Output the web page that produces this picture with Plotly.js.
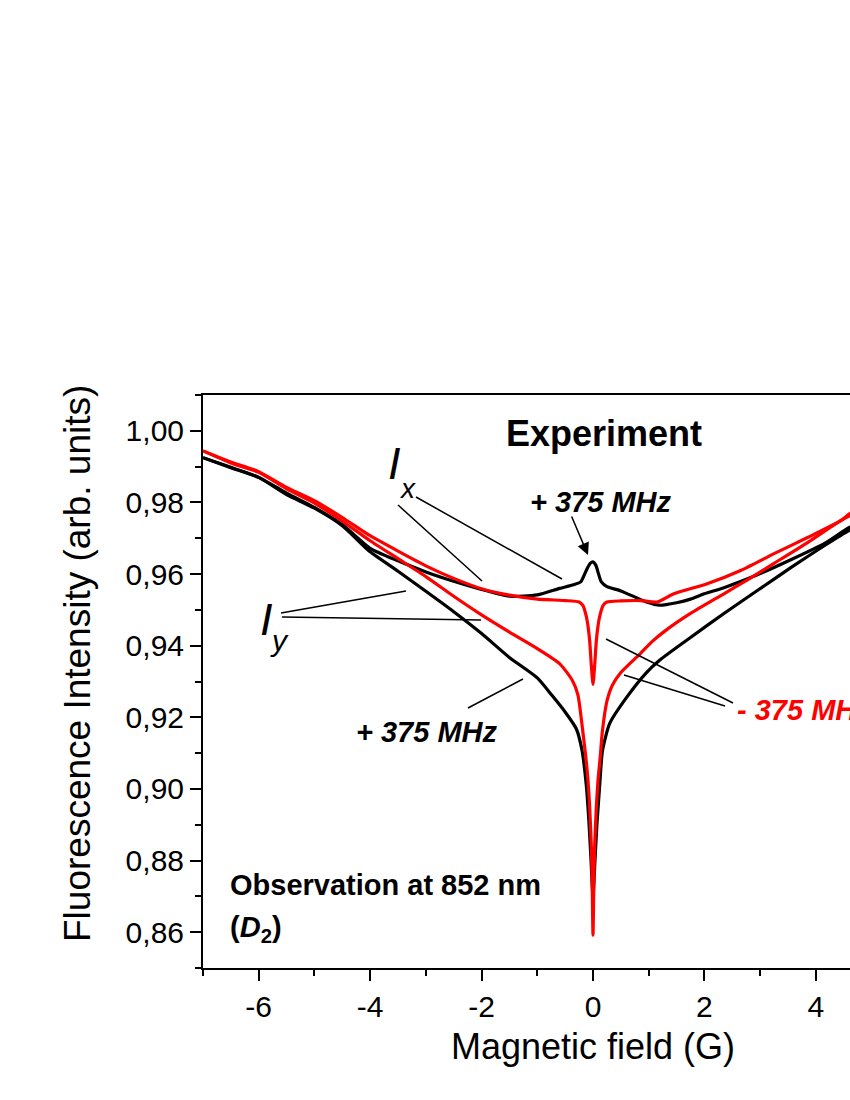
<!DOCTYPE html>
<html><head><meta charset="utf-8">
<script src="https://cdn.plot.ly/plotly-3.0.1.min.js"></script>
<style>html,body{margin:0;padding:0;overflow:hidden;background:#fff;width:850px;height:1100px}#chart{width:1000px;height:1100px}</style>
</head><body><div id="chart"></div>
<script>
// Magnetic field (G) and fluorescence intensity (arb. units)
const blackIxField = [-7, -6.5, -6, -5.5, -5, -4.5, -4, -3.5, -3, -2.5, -2, -1.5, -1, -0.6, -0.35, -0.22, -0.15, -0.1, -0.05, 0, 0.05, 0.1, 0.15, 0.25, 0.5, 0.96, 1.2, 1.5, 1.75, 2.0, 2.35, 2.95, 3.55, 4.15, 4.6, 5, 5.5, 6, 6.5, 7];
const blackIx      = [0.9925, 0.9898, 0.9870, 0.9826, 0.9786, 0.9738, 0.9672, 0.9637, 0.9606, 0.9580, 0.9557, 0.9538, 0.9542, 0.9560, 0.9570, 0.9578, 0.9600, 0.9617, 0.9630, 0.9634, 0.9625, 0.9600, 0.9578, 0.9565, 0.9553, 0.9522, 0.9513, 0.9520, 0.9530, 0.9545, 0.9562, 0.9598, 0.9640, 0.9685, 0.9730, 0.9758, 0.9800, 0.9845, 0.9878, 0.9905];

const blackIyField = [-7, -6.5, -6, -5.5, -5, -4.5, -4, -3.5, -3, -2.5, -2, -1.5, -1, -0.73, -0.5, -0.3, -0.2, -0.12, -0.07, -0.035, 0, 0.035, 0.07, 0.12, 0.17, 0.3, 0.6, 0.96, 1.2, 1.75, 2.35, 2.95, 3.55, 4.15, 4.6, 5, 5.5, 6, 6.5, 7];
const blackIy      = [0.9925, 0.9897, 0.9870, 0.9822, 0.9784, 0.9735, 0.9662, 0.9608, 0.9552, 0.9495, 0.9434, 0.9367, 0.9310, 0.9260, 0.9215, 0.9168, 0.9110, 0.9010, 0.8900, 0.8800, 0.8700, 0.8800, 0.8900, 0.9010, 0.9107, 0.9183, 0.9255, 0.9325, 0.9360, 0.9423, 0.9490, 0.9554, 0.9618, 0.9679, 0.9722, 0.9752, 0.9795, 0.9838, 0.9872, 0.9900];

const redIxField = [-7, -6.5, -6, -5.5, -5, -4.5, -4, -3.5, -3, -2.5, -2, -1.5, -1, -0.5, -0.25, -0.18, -0.12, -0.09, -0.06, -0.03, 0, 0.03, 0.06, 0.09, 0.12, 0.18, 0.25, 0.5, 0.85, 1.15, 1.45, 2.05, 2.65, 3.25, 3.85, 4.45, 4.6, 5, 5.5, 6, 6.5, 7];
const redIx      = [0.9944, 0.9913, 0.9886, 0.9842, 0.9805, 0.9758, 0.9707, 0.9664, 0.9623, 0.9588, 0.9559, 0.9541, 0.9530, 0.9526, 0.9522, 0.9512, 0.9482, 0.9455, 0.9414, 0.9345, 0.9292, 0.9345, 0.9414, 0.9455, 0.9482, 0.9512, 0.9522, 0.9525, 0.9526, 0.9522, 0.9545, 0.9573, 0.9610, 0.9657, 0.9702, 0.9749, 0.9768, 0.9795, 0.9838, 0.9878, 0.9910, 0.9935];

const redIyField = [-7, -6.5, -6, -5.5, -5, -4.5, -4, -3.5, -3, -2.5, -2, -1.5, -1, -0.6, -0.37, -0.27, -0.19, -0.13, -0.09, -0.06, -0.03, -0.015, 0, 0.015, 0.03, 0.06, 0.09, 0.13, 0.17, 0.25, 0.35, 0.5, 0.85, 1.05, 1.3, 1.75, 2.35, 2.75, 3.25, 3.85, 4.45, 4.6, 5, 5.5, 6, 6.5, 7];
const redIy      = [0.9944, 0.9910, 0.9884, 0.9838, 0.9798, 0.9748, 0.9693, 0.9643, 0.9593, 0.9538, 0.9486, 0.9438, 0.9392, 0.9350, 0.9303, 0.9262, 0.9170, 0.9090, 0.9024, 0.8950, 0.8840, 0.8740, 0.8592, 0.8740, 0.8840, 0.8950, 0.9024, 0.9090, 0.9163, 0.9245, 0.9290, 0.9325, 0.9378, 0.9410, 0.9442, 0.9490, 0.9545, 0.9582, 0.9630, 0.9688, 0.9750, 0.9762, 0.9790, 0.9832, 0.9872, 0.9905, 0.9930];

const xTickVals = [-6, -4, -2, 0, 2, 4];
const xTickText = ['-6', '-4', '-2', '0', '2', '4'];
const yTickVals = [0.86, 0.88, 0.90, 0.92, 0.94, 0.96, 0.98, 1.00];

const FONT = 'Liberation Sans, Arial, sans-serif';
const BLACK = '#000000', RED = '#ff0000';

// plot frame in pixels (for placing labels)
const L = 203, R = 983, T = 395, B = 968;
const px = x => (x - L) / (R - L);
const py = y => (B - y) / (B - T);

function curve(x, y, color) {
  return {x: x, y: y, type: 'scatter', mode: 'lines',
          line: {color: color, width: 3.2, shape: 'spline', smoothing: 0.6},
          hoverinfo: 'skip', showlegend: false};
}

const traces = [
  curve(blackIxField, blackIx, BLACK),
  curve(blackIyField, blackIy, BLACK),
  curve(redIxField, redIx, RED),
  curve(redIyField, redIy, RED)
];

function seg(x0, y0, x1, y1) {
  return {type: 'line', xref: 'paper', yref: 'paper', x0: px(x0), y0: py(y0), x1: px(x1), y1: py(y1), line: {color: BLACK, width: 1.5}};
}
const shapes = [
  seg(398, 505, 482, 581),
  seg(416, 497, 562, 579),
  seg(281, 613, 406, 591),
  seg(282, 617, 481, 620),
  seg(468, 708, 523, 679),
  seg(606, 639, 733, 703),
  seg(624, 675, 725, 706)
];

function txt(text, x, y, size, color, xanchor) {
  return {text: text, x: px(x), y: py(y), xref: 'paper', yref: 'paper', showarrow: false,
          xanchor: xanchor || 'center', yanchor: 'middle', font: {family: FONT, size: size, color: color || BLACK}};
}
const yTitle = txt('Fluorescence Intensity (arb. units)', 77, 664, 37);
yTitle.textangle = -90;

const annotations = [
  yTitle,
  txt('<b>Experiment</b>', 604, 433, 36),
  txt('<i>I</i>', 394, 463, 45),
  txt('<i>x</i>', 407, 488, 28),
  txt('<i>I</i>', 266, 619, 45),
  txt('<i>y</i>', 279, 640, 30),
  txt('<b><i>+ 375 MHz</i></b>', 601, 502, 29),
  txt('<b><i>+ 375 MHz</i></b>', 427, 732, 29),
  txt('<b><i>- 375 MHz</i></b>', 735, 710, 29, RED, 'left'),
  txt('<b>Observation at 852 nm</b>', 228, 885, 29, BLACK, 'left'),
  txt('<b>(<i>D</i><sub>2</sub>)</b>', 228, 929, 29, BLACK, 'left'),
  {x: px(588), y: py(555), ax: px(571), ay: py(515), xref: 'paper', yref: 'paper', axref: 'paper', ayref: 'paper',
   text: '', showarrow: true, arrowhead: 2, arrowsize: 1.6, arrowwidth: 1.5, arrowcolor: BLACK}
];

const layout = {
  width: 1000, height: 1100,
  margin: {l: L, r: 1000 - R, t: T, b: 1100 - B},
  paper_bgcolor: '#ffffff', plot_bgcolor: '#ffffff',
  separators: ', ',
  font: {family: FONT, color: BLACK},
  showlegend: false,
  xaxis: {
    range: [-7, 7], showgrid: false, zeroline: false,
    showline: true, linecolor: BLACK, linewidth: 2, mirror: true,
    ticks: 'outside', ticklen: 11, tickwidth: 2, tickcolor: BLACK,
    tickvals: xTickVals, ticktext: xTickText, tickfont: {size: 30, family: FONT},
    minor: {dtick: 1, tick0: 0, ticks: 'outside', ticklen: 6, tickwidth: 2, tickcolor: BLACK, showgrid: false},
    title: {text: 'Magnetic field (G)', font: {size: 36, family: FONT}, standoff: 12}
  },
  yaxis: {
    range: [0.85, 1.01], showgrid: false, zeroline: false,
    showline: true, linecolor: BLACK, linewidth: 2, mirror: true,
    ticks: 'outside', ticklen: 11, tickwidth: 2, tickcolor: BLACK,
    tickvals: yTickVals, tickformat: '.2f', tickfont: {size: 30, family: FONT},
    minor: {dtick: 0.01, tick0: 0.85, ticks: 'outside', ticklen: 6, tickwidth: 2, tickcolor: BLACK, showgrid: false}
  },
  shapes: shapes,
  annotations: annotations
};

Plotly.newPlot('chart', traces, layout, {staticPlot: true, displayModeBar: false});
</script>
</body></html>
